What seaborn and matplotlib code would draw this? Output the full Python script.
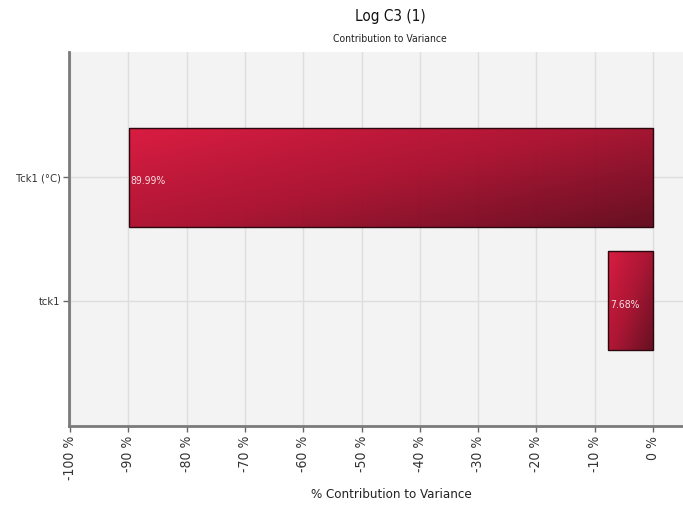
import numpy as np
import pandas as pd
import matplotlib
matplotlib.use("Agg")
import matplotlib.pyplot as plt
import seaborn as sns
from matplotlib.colors import LinearSegmentedColormap

# Variance contribution per input (percent)
categories = ["Tck1 (°C)", "tck1"]
contribution = [89.99, 7.68]
value_labels = ["89.99%", "7.68%"]
tick_values = [-100, -90, -80, -70, -60, -50, -40, -30, -20, -10, 0]
tick_labels = ["-100 %", "-90 %", "-80 %", "-70 %", "-60 %", "-50 %",
               "-40 %", "-30 %", "-20 %", "-10 %", "0 %"]

sns.set_theme(style="white")
plt.rcParams["font.family"] = ["DejaVu Sans"]
plt.rcParams["font.stretch"] = "condensed"

df = pd.DataFrame({"input": categories,
                   "share": [-v for v in contribution]})

fig = plt.figure(figsize=(6.83, 5.09), dpi=100)
ax = fig.add_axes([69 / 683, 83 / 509, 614 / 683, 374 / 509])
ax.set_facecolor("#f3f3f3")

sns.barplot(data=df, x="share", y="input", orient="h", width=0.8,
            color="#b01030", edgecolor="#2a080e", linewidth=1.0, ax=ax,
            zorder=2)

# diagonal crimson-to-maroon gradient inside each bar
grad_cmap = LinearSegmentedColormap.from_list("crimson", ["#d8163c", "#aa0f2e", "#62081b"])
gx, gy = np.meshgrid(np.linspace(0, 1, 200), np.linspace(0, 1, 200))
grad = 0.55 * gx + 0.45 * gy
for patch in ax.patches:
    x0, y0 = patch.get_x(), patch.get_y()
    w, h = patch.get_width(), patch.get_height()
    patch.set_facecolor("none")
    im = ax.imshow(grad, cmap=grad_cmap, vmin=0, vmax=1, aspect="auto",
                   extent=(min(x0, x0 + w), max(x0, x0 + w), y0 + h, y0),
                   interpolation="bilinear", alpha=0.97, zorder=1.9)
    im.set_clip_path(patch)

ax.set_xlim(-100.2, 5.15)
ax.set_ylim(2.01, -1.01)

for i, (v, lab) in enumerate(zip(contribution, value_labels)):
    ax.text(-v + 0.4, i + 0.03, lab, ha="left", va="center", fontsize=7.5,
            color="#f5dde2", zorder=4)

ax.set_xticks(tick_values)
ax.set_xticklabels(tick_labels, rotation=90, fontsize=10, color="#333333")
ax.tick_params(axis="y", labelsize=8, labelcolor="#333333", pad=2)
ax.tick_params(axis="x", pad=3)
ax.tick_params(axis="both", direction="out", length=4, width=1, color="#666666",
               bottom=True, left=True)

ax.grid(True, color="#dedede", linewidth=1.0, zorder=0)
ax.set_axisbelow(True)
for side in ["top", "right"]:
    ax.spines[side].set_visible(False)
for side in ["left", "bottom"]:
    ax.spines[side].set_color("#7a7a7a")
    ax.spines[side].set_linewidth(2.0)

ax.set_xlabel("% Contribution to Variance", fontsize=9.5, color="#222222")
ax.xaxis.set_label_coords((391 - 69) / 614, -(495 - 426) / 374)
ax.xaxis.label.set_va("center")
ax.set_ylabel("")

fig.text(390 / 683, 1 - 17 / 509, "Log C3 (1)", ha="center", va="center",
         fontsize=11, color="#111111")
fig.text(390 / 683, 1 - 39 / 509, "Contribution to Variance", ha="center",
         va="center", fontsize=7.5, color="#222222")

fig.savefig("out.png", dpi=100)
